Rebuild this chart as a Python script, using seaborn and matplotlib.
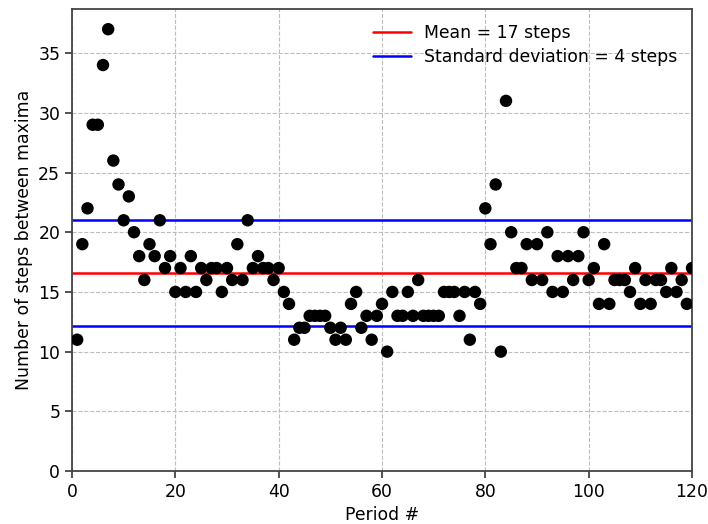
import numpy as np
import pandas as pd
import matplotlib
matplotlib.use("Agg")
import matplotlib.pyplot as plt
import seaborn as sns

# Steps between successive maxima, one value per period
periods = list(range(1, 121))
steps = [
    11, 19, 22, 29, 29, 34, 37, 26, 24, 21,
    23, 20, 18, 16, 19, 18, 21, 17, 18, 15,
    17, 15, 18, 15, 17, 16, 17, 17, 15, 17,
    16, 19, 16, 21, 17, 18, 17, 17, 16, 17,
    15, 14, 11, 12, 12, 13, 13, 13, 13, 12,
    11, 12, 11, 14, 15, 12, 13, 11, 13, 14,
    10, 15, 13, 13, 15, 13, 16, 13, 13, 13,
    13, 15, 15, 15, 13, 15, 11, 15, 14, 22,
    19, 24, 10, 31, 20, 17, 17, 19, 16, 19,
    16, 20, 15, 18, 15, 18, 16, 18, 20, 16,
    17, 14, 19, 14, 16, 16, 16, 15, 17, 14,
    16, 14, 16, 16, 15, 17, 15, 16, 14, 17,
]

df = pd.DataFrame({"period": periods, "steps": steps})
mean = df["steps"].mean()
std = df["steps"].std(ddof=0)

sns.set_style("ticks")
plt.rcParams['font.family'] = ['DejaVu Sans']
plt.rcParams['text.color'] = 'black'
plt.rcParams['axes.labelcolor'] = 'black'
plt.rcParams['xtick.color'] = 'black'
plt.rcParams['ytick.color'] = 'black'

fs = 12.4

fig = plt.figure(figsize=(7.08, 5.24), dpi=100)
ax = fig.add_axes([0.1017, 0.101, 0.8757, 0.882])

ax.grid(True, linestyle='--', color='#bdbdbd', linewidth=0.8)
ax.set_axisbelow(True)

ax.axhline(mean, color='red', linewidth=1.8, label=f'Mean = {round(mean)} steps')
ax.axhline(mean + std, color='blue', linewidth=1.8,
           label=f'Standard deviation = {round(std)} steps')
ax.axhline(mean - std, color='blue', linewidth=1.8)

sns.scatterplot(data=df, x="period", y="steps", color='black', s=80,
                edgecolor='none', ax=ax, zorder=3)

ax.set_xlim(0, 120)
ax.set_ylim(0, 38.7)
ax.set_xticks(range(0, 121, 20))
ax.set_yticks(range(0, 36, 5))
ax.set_xlabel('Period #', fontsize=fs)
ax.set_ylabel('Number of steps between maxima', fontsize=fs)
ax.tick_params(labelsize=fs, length=5, width=1.2, color='#333333')
for sp in ax.spines.values():
    sp.set_color('#444444')
    sp.set_linewidth(1.3)

ax.legend(loc='upper right', frameon=False, fontsize=fs, handlelength=2.2,
          handletextpad=0.75, borderaxespad=0.45, labelspacing=0.38)

fig.savefig('out.png', dpi=100)
